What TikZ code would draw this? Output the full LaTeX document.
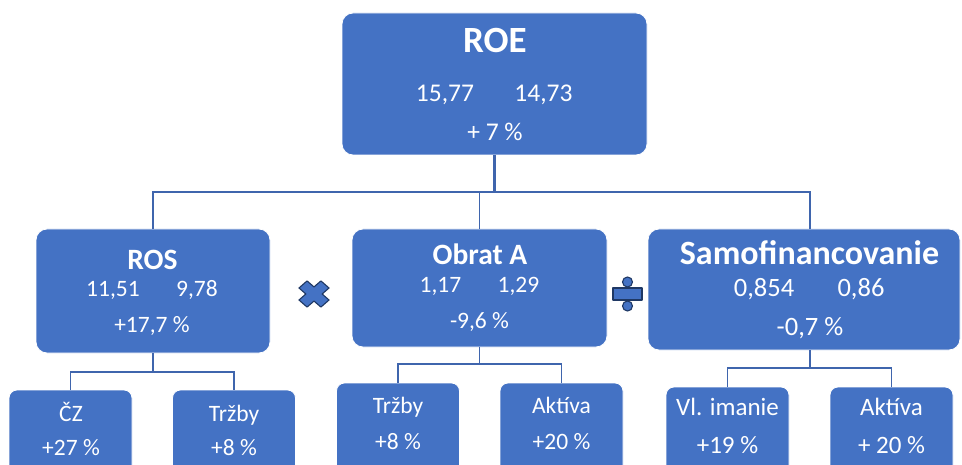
\documentclass[tikz,border=0pt]{standalone}
\usepackage{fontspec}
\setmainfont{Carlito}
\usetikzlibrary{calc}
\definecolor{boxblue}{HTML}{4472C4}
\definecolor{lineblue}{HTML}{3F65AD}
\definecolor{signedge}{HTML}{1F3864}

\begin{document}
\begin{tikzpicture}[
  x=1pt, y=-1pt,
  box/.style={fill=boxblue, draw=white, line width=0.8pt,
              rounded corners=11pt, inner sep=0pt, outer sep=0pt},
  leaf/.style={box, rounded corners=8pt,
               minimum width=123pt, minimum height=90pt},
  txt/.style={text=white, anchor=base, inner sep=0pt},
  conn/.style={draw=lineblue, line width=1.7pt},
  trunk/.style={conn, line width=2.6pt},
  sign/.style={fill=boxblue, draw=signedge, line width=1.1pt, line join=round}
]
\useasboundingbox (0,0) rectangle (962,465);
\clip (0,0) rectangle (962,465);

% --- Top: ROE ---
\node[box, minimum width=305pt, minimum height=142pt] (roe) at (494.5,84) {};
\node[txt, font=\bfseries\fontsize{37}{42}\selectfont] (roeT) at (495,53) {ROE};
\node[txt, font=\fontsize{25.5}{29}\selectfont] (roeA) at (445,102) {15,77};
\node[txt, font=\fontsize{25.5}{29}\selectfont] (roeB) at (543.5,102) {14,73};
\node[txt, font=\fontsize{25.5}{29}\selectfont] (roeP) at (495,141) {+ 7 \%};

% --- Middle row ---
\node[box, minimum width=234pt, minimum height=124pt] (ros) at (153,291) {};
\node[txt, font=\bfseries\fontsize{29.5}{34}\selectfont] (rosT) at (152.5,270) {ROS};
\node[txt, font=\fontsize{23.5}{27}\selectfont] (rosA) at (113,297) {11,51};
\node[txt, font=\fontsize{23.5}{27}\selectfont] (rosB) at (197,297) {9,78};
\node[txt, font=\fontsize{23.5}{27}\selectfont] (rosP) at (152,333) {+17,7 \%};

\node[box, minimum width=255pt, minimum height=118pt] (obrat) at (479.5,288) {};
\node[txt, font=\bfseries\fontsize{29.5}{34}\selectfont] (obratT) at (480,265) {Obrat A};
\node[txt, font=\fontsize{23.5}{27}\selectfont] (obratA) at (440.5,293) {1,17};
\node[txt, font=\fontsize{23.5}{27}\selectfont] (obratB) at (518.5,293) {1,29};
\node[txt, font=\fontsize{23.5}{27}\selectfont] (obratP) at (479.5,329) {-9,6 \%};

\node[box, minimum width=312pt, minimum height=121pt] (samo) at (804,289.5) {};
\node[txt, font=\bfseries\fontsize{34}{39}\selectfont] (samoT) at (809.5,265) {Samofinancovanie};
\node[txt, font=\fontsize{26.5}{30}\selectfont] (samoA) at (764,297) {0,854};
\node[txt, font=\fontsize{26.5}{30}\selectfont] (samoB) at (861,297) {0,86};
\node[txt, font=\fontsize{26.5}{30}\selectfont] (samoP) at (810,335) {-0,7 \%};

% --- Operators ---
\draw[sign, shift={(314,294)}, xscale=1.15, rotate=45]
  (5,13.5) -- (5,5) -- (13.5,5) -- (13.5,-5) -- (5,-5) -- (5,-13.5)
  -- (-5,-13.5) -- (-5,-5) -- (-13.5,-5) -- (-13.5,5) -- (-5,5) -- (-5,13.5) -- cycle;
\draw[sign] (613,288) rectangle (642,300);
\draw[sign] (627.5,282) circle (5);
\draw[sign] (627.5,306) circle (5);

% --- Bottom row ---
\node[leaf] (cz) at (70.5,435) {};
\node[txt, font=\fontsize{23.5}{27}\selectfont] at (71,421) {ČZ};
\node[txt, font=\fontsize{23.5}{27}\selectfont] at (71,455) {+27 \%};
\node[leaf] (trzbyR) at (234,435) {};
\node[txt, font=\fontsize{23.5}{27}\selectfont] at (234,421) {Tržby};
\node[txt, font=\fontsize{23.5}{27}\selectfont] at (234,455) {+8 \%};

\node[leaf] (trzbyO) at (398,428) {};
\node[txt, font=\fontsize{23.5}{27}\selectfont] at (398,413) {Tržby};
\node[txt, font=\fontsize{23.5}{27}\selectfont] at (398,449) {+8 \%};
\node[leaf] (aktivaO) at (561.5,428) {};
\node[txt, font=\fontsize{23.5}{27}\selectfont] at (561.5,413) {Aktíva};
\node[txt, font=\fontsize{23.5}{27}\selectfont] at (561.5,449) {+20 \%};

\node[leaf] (imanie) at (727.5,432) {};
\node[txt, font=\fontsize{25}{29}\selectfont] at (727.5,415) {Vl. imanie};
\node[txt, font=\fontsize{25}{29}\selectfont] at (727.5,453) {+19 \%};
\node[leaf] (aktivaS) at (891.5,432) {};
\node[txt, font=\fontsize{25}{29}\selectfont] at (891.5,415) {Aktíva};
\node[txt, font=\fontsize{25}{29}\selectfont] at (891.5,453) {+ 20 \%};

% --- Connectors ---
\draw[trunk] (roe.south) -- ++(0,37) coordinate (bus);
\draw[conn] (ros.north) |- (bus) -| ([xshift=6pt]samo.north);
\draw[conn] (obrat.north) -- (obrat.north |- bus);

\draw[conn] (ros.south) -- ++(0,19) coordinate (rosbus);
\draw[conn] (cz.north) |- (rosbus) -| (trzbyR.north);
\draw[conn] (obrat.south) -- ++(0,17) coordinate (obratbus);
\draw[conn] (trzbyO.north) |- (obratbus) -| (aktivaO.north);
\draw[conn] ([xshift=6pt]samo.south) -- ++(0,18) coordinate (samobus);
\draw[conn] (imanie.north) |- (samobus) -| (aktivaS.north);
\end{tikzpicture}
\end{document}
